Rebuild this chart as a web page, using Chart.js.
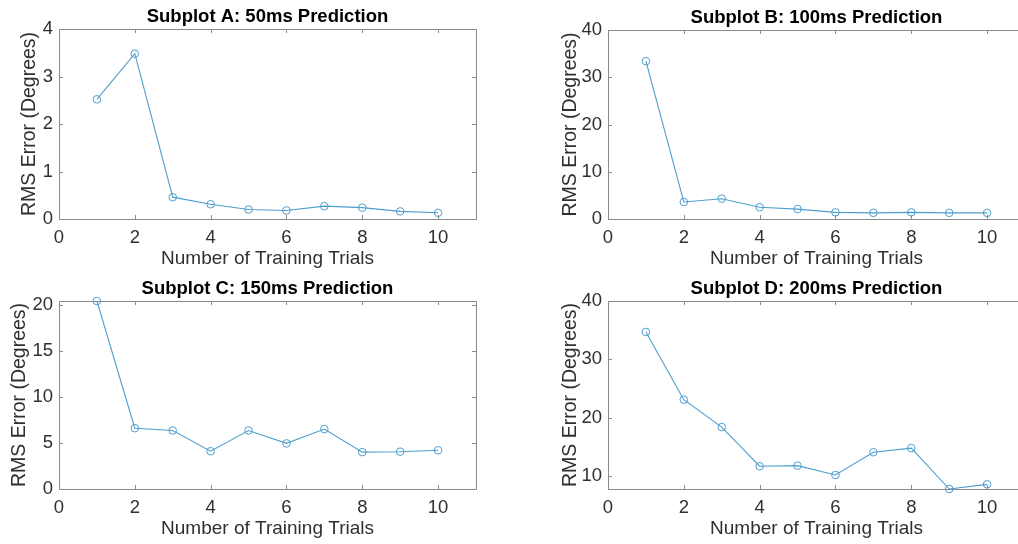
<!DOCTYPE html>
<html>
<head>
<meta charset="utf-8">
<script src="https://cdn.jsdelivr.net/npm/chart.js@4.4.1/dist/chart.umd.min.js"></script>
<style>
  html, body { margin: 0; padding: 0; background: #fff; }
  body { width: 1018px; height: 544px; overflow: hidden; position: relative; }
  canvas { position: absolute; }
</style>
</head>
<body>
<canvas id="chartA"></canvas>
<canvas id="chartB"></canvas>
<canvas id="chartC"></canvas>
<canvas id="chartD"></canvas>
<script>
// data
const trials = [1, 2, 3, 4, 5, 6, 7, 8, 9, 10];
const rms50  = [2.52, 3.48, 0.46, 0.31, 0.20, 0.18, 0.27, 0.24, 0.16, 0.13];
const rms100 = [33.4, 3.6, 4.3, 2.5, 2.1, 1.4, 1.3, 1.4, 1.3, 1.3];
const rms150 = [20.4, 6.6, 6.35, 4.1, 6.35, 4.95, 6.5, 4.0, 4.05, 4.2];
const rms200 = [34.7, 23.1, 18.4, 11.7, 11.8, 10.2, 14.1, 14.8, 7.8, 8.6];

const xTicks  = [0, 2, 4, 6, 8, 10];
const yTicksA = [0, 1, 2, 3, 4];
const yTicksB = [0, 10, 20, 30, 40];
const yTicksC = [0, 5, 10, 15, 20];
const yTicksD = [10, 20, 30, 40];

const titles = [
  'Subplot A: 50ms Prediction',
  'Subplot B: 100ms Prediction',
  'Subplot C: 150ms Prediction',
  'Subplot D: 200ms Prediction'
];
const xLabel = 'Number of Training Trials';
const yLabel = 'RMS Error (Degrees)';

const FONT = '"Liberation Sans", Arial, Helvetica, sans-serif';
const LINE_COLOR = 'rgb(77,158,207)';
const AXIS_COLOR = '#8a8a8a';
const TEXT_COLOR = '#303030';

// matlab-ish box with inward ticks on all four sides
const boxPlugin = {
  id: 'box',
  beforeDatasetsDraw(chart) {
    const {ctx, chartArea: a, scales: {x, y}} = chart;
    ctx.save();
    ctx.strokeStyle = AXIS_COLOR;
    ctx.lineWidth = 1;
    ctx.strokeRect(Math.round(a.left) + 0.5, Math.round(a.top) + 0.5,
                   Math.round(a.right - a.left), Math.round(a.bottom - a.top));
    ctx.beginPath();
    x.ticks.forEach(t => {
      const px = Math.round(x.getPixelForValue(t.value)) + 0.5;
      ctx.moveTo(px, a.bottom); ctx.lineTo(px, a.bottom - 4);
      ctx.moveTo(px, a.top); ctx.lineTo(px, a.top + 4);
    });
    y.ticks.forEach(t => {
      const py = Math.round(y.getPixelForValue(t.value)) + 0.5;
      ctx.moveTo(a.left, py); ctx.lineTo(a.left + 4, py);
      ctx.moveTo(a.right, py); ctx.lineTo(a.right - 4, py);
    });
    ctx.stroke();
    ctx.restore();
  }
};

function makeChart(id, title, values, yMin, yMax, yTicks, pos) {
  const canvas = document.getElementById(id);
  canvas.width = pos.w;
  canvas.height = pos.h;
  canvas.style.left = pos.left + 'px';
  canvas.style.top = pos.top + 'px';
  canvas.style.width = pos.w + 'px';
  canvas.style.height = pos.h + 'px';

  return new Chart(canvas.getContext('2d'), {
    type: 'line',
    data: {
      datasets: [{
        data: trials.map((t, i) => ({x: t, y: values[i]})),
        borderColor: LINE_COLOR,
        borderWidth: 1.1,
        pointRadius: 3.8,
        pointBorderWidth: 1,
        pointBorderColor: LINE_COLOR,
        pointBackgroundColor: 'rgba(0,0,0,0)',
        tension: 0,
        clip: false
      }]
    },
    options: {
      responsive: false,
      animation: false,
      layout: { padding: { left: 0, right: 12, top: 0, bottom: 0 } },
      plugins: {
        legend: { display: false },
        tooltip: { enabled: false },
        title: {
          display: true,
          text: title,
          fullSize: false,
          color: '#000',
          font: { family: FONT, size: 18.5, weight: 'bold', lineHeight: 1.2 },
          padding: { top: 5.8, bottom: 1 }
        }
      },
      scales: {
        x: {
          type: 'linear',
          min: 0,
          max: 11,
          afterBuildTicks: s => { s.ticks = xTicks.map(v => ({value: v})); },
          afterFit: s => { s.height = 53; },
          grid: { display: false, drawTicks: false },
          border: { display: false },
          ticks: { color: TEXT_COLOR, padding: 8, font: { family: FONT, size: 18.5 } },
          title: {
            display: true, text: xLabel, color: TEXT_COLOR,
            font: { family: FONT, size: 19, lineHeight: 1.2 },
            padding: { top: 0, bottom: 1.8 }
          }
        },
        y: {
          type: 'linear',
          min: yMin,
          max: yMax,
          afterBuildTicks: s => { s.ticks = yTicks.map(v => ({value: v})); },
          afterFit: s => { s.width = 59; },
          grid: { display: false, drawTicks: false },
          border: { display: false },
          ticks: { color: TEXT_COLOR, padding: 6, font: { family: FONT, size: 18.5 } },
          title: {
            display: true, text: yLabel, color: TEXT_COLOR,
            font: { family: FONT, size: 19.5, lineHeight: 1.2 },
            padding: { top: pos.yPad, bottom: 0 }
          }
        }
      }
    },
    plugins: [boxPlugin]
  });
}

makeChart('chartA', titles[0], rms50,  0, 4,    yTicksA, {left: 0,   top: 0,   w: 488, h: 272, yPad: 18});
makeChart('chartB', titles[1], rms100, 0, 40,   yTicksB, {left: 549, top: 1,   w: 488, h: 271, yPad: 9.8});
makeChart('chartC', titles[2], rms150, 0, 20.4, yTicksC, {left: 0,   top: 272, w: 488, h: 270, yPad: 8});
makeChart('chartD', titles[3], rms200, 7.8, 40, yTicksD, {left: 549, top: 272, w: 488, h: 270, yPad: 9.8});
</script>
</body>
</html>
